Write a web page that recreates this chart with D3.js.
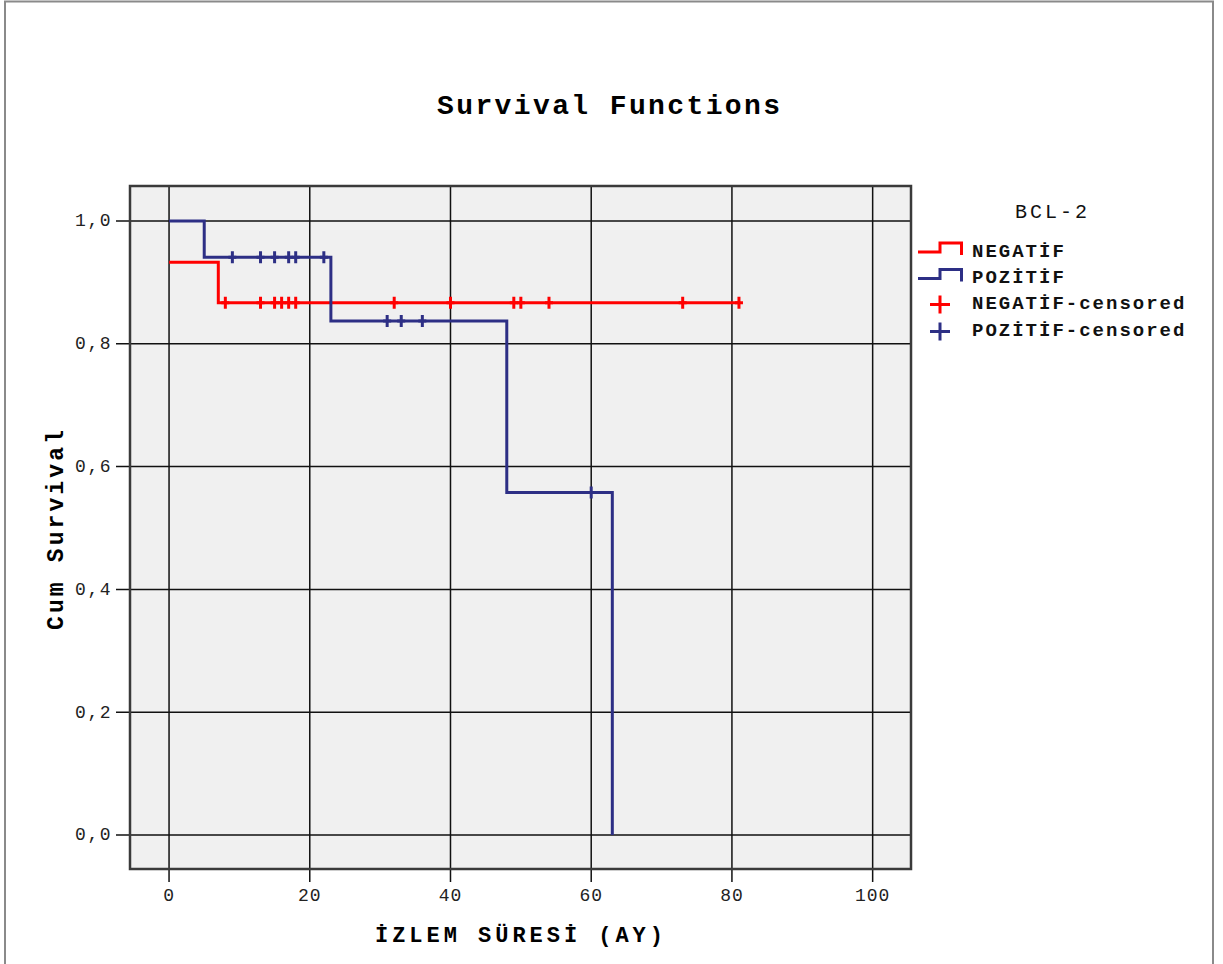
<!DOCTYPE html>
<html><head><meta charset="utf-8">
<script src="https://cdn.jsdelivr.net/npm/d3@7"></script>
<style>body{margin:0;background:#fff} svg{display:block}</style>
</head><body><svg id="c" width="1223" height="964"></svg>
<script>
// ---- data ----
const xTicks = [0, 20, 40, 60, 80, 100];
const yTicks = [0, 0.2, 0.4, 0.6, 0.8, 1.0];
const groups = ["NEGATİF", "POZİTİF"];
const negTimes = [0, 7, 81];
const negSurv = [0.933, 0.867, 0.867];
const posTimes = [0, 5, 23, 48, 63];
const posSurv = [1.0, 0.941, 0.837, 0.558, 0.0];
const negCensored = [8, 13, 15, 16, 17, 18, 32, 40, 49, 50, 54, 73, 81];
const posCensored = [9, 13, 15, 17, 18, 22, 31, 33, 36, 60];

const colors = {NEG: "#ff0000", POS: "#2d2f85"};
const svg = d3.select("#c");
const mono = "'Liberation Mono','DejaVu Sans Mono',monospace";

// outer frame
svg.append("rect").attr("x", 5).attr("y", 1.5).attr("width", 1208).attr("height", 1000)
  .attr("fill", "none").attr("stroke", "#8a8a8a").attr("stroke-width", 2);

const L = 130, R = 911, T = 186, B = 869;
const x = d3.scaleLinear().domain([-5.55, 105.45]).range([L, R]);
const y = d3.scaleLinear().domain([-0.0554, 1.057]).range([B, T]);

// title
svg.append("text").attr("x", 608.5).attr("y", 114).attr("text-anchor", "middle")
  .attr("font-family", mono).attr("font-weight", "bold").attr("font-size", 28)
  .attr("textLength", 343).attr("lengthAdjust", "spacing")
  .text("Survival Functions");

// plot background
svg.append("rect").attr("x", L).attr("y", T).attr("width", R - L).attr("height", B - T)
  .attr("fill", "#f0f0f0");

// grid + ticks
const g = svg.append("g");
g.selectAll("line.vx").data(xTicks).join("line")
  .attr("x1", d => x(d)).attr("x2", d => x(d)).attr("y1", T).attr("y2", B + 13)
  .attr("stroke", "#111").attr("stroke-width", 1.5);
g.selectAll("line.hy").data(yTicks).join("line")
  .attr("x1", L - 14).attr("x2", R).attr("y1", d => y(d)).attr("y2", d => y(d))
  .attr("stroke", "#111").attr("stroke-width", 1.5);

// border
svg.append("rect").attr("x", L).attr("y", T).attr("width", R - L).attr("height", B - T)
  .attr("fill", "none").attr("stroke", "#3a3a3a").attr("stroke-width", 2.5);

// tick labels
svg.selectAll("text.xt").data(xTicks).join("text")
  .attr("x", d => x(d)).attr("y", 901).attr("text-anchor", "middle")
  .attr("font-family", mono).attr("font-size", 18).attr("fill", "#222")
  .attr("letter-spacing", 1)
  .text(d => String(d));
svg.selectAll("text.yt").data(yTicks).join("text")
  .attr("x", 112).attr("y", d => y(d) + 5.5).attr("text-anchor", "end")
  .attr("font-family", mono).attr("font-size", 18).attr("fill", "#222")
  .attr("letter-spacing", 1.5)
  .text(d => d3.format(".1f")(d).replace(".", ","));

// axis titles
svg.append("text").attr("x", 519).attr("y", 942).attr("text-anchor", "middle")
  .attr("font-family", mono).attr("font-weight", "bold").attr("font-size", 22)
  .attr("textLength", 288).attr("lengthAdjust", "spacing")
  .text("İZLEM SÜRESİ (AY)");
svg.append("text").attr("transform", "translate(63,530) rotate(-90)").attr("text-anchor", "middle")
  .attr("font-family", mono).attr("font-weight", "bold").attr("font-size", 23)
  .attr("textLength", 200).attr("lengthAdjust", "spacing")
  .text("Cum Survival");

// curves
const line = d3.line().x(d => x(d[0])).y(d => y(d[1])).curve(d3.curveStepAfter);
const series = [
  {key: "NEG", times: negTimes, surv: negSurv, cens: negCensored},
  {key: "POS", times: posTimes, surv: posSurv, cens: posCensored}
];
function survAt(s, t) {
  let v = s.surv[0];
  for (let i = 0; i < s.times.length; i++) if (s.times[i] <= t) v = s.surv[i];
  return v;
}
series.forEach(s => {
  svg.append("path").attr("d", line(s.times.map((t, i) => [t, s.surv[i]])))
    .attr("fill", "none").attr("stroke", colors[s.key]).attr("stroke-width", 3);
  svg.append("g").selectAll("path").data(s.cens).join("path")
    .attr("d", t => {
      const px = x(t), py = y(survAt(s, t));
      return `M${px},${py - 6}V${py + 6}M${px - 4},${py}H${px + 4}`;
    })
    .attr("stroke", colors[s.key]).attr("stroke-width", 3).attr("fill", "none");
});

// legend
svg.append("text").attr("x", 1051).attr("y", 218).attr("text-anchor", "middle")
  .attr("font-family", mono).attr("font-size", 20).attr("fill", "#111")
  .attr("textLength", 72).attr("lengthAdjust", "spacing").text("BCL-2");
const legItems = [
  {label: groups[0], key: "NEG", type: "line", y: 252},
  {label: groups[1], key: "POS", type: "line", y: 278.5},
  {label: groups[0] + "-censored", key: "NEG", type: "plus", y: 304.5},
  {label: groups[1] + "-censored", key: "POS", type: "plus", y: 331.5}
];
legItems.forEach(it => {
  if (it.type === "line") {
    svg.append("path").attr("d", `M918,${it.y}H940V${it.y - 9}H961.5V${it.y + 3}`)
      .attr("fill", "none").attr("stroke", colors[it.key]).attr("stroke-width", 3);
  } else {
    svg.append("path").attr("d", `M940,${it.y - 9}V${it.y + 9}M930,${it.y}H950`)
      .attr("fill", "none").attr("stroke", colors[it.key]).attr("stroke-width", 3);
  }
  svg.append("text").attr("x", 972).attr("y", it.y + 4.5)
    .attr("font-family", mono).attr("font-weight", "bold").attr("font-size", 19).attr("fill", "#111")
    .attr("textLength", it.label.length * 13.4 - 2).attr("lengthAdjust", "spacing")
    .text(it.label);
});
</script></body></html>
